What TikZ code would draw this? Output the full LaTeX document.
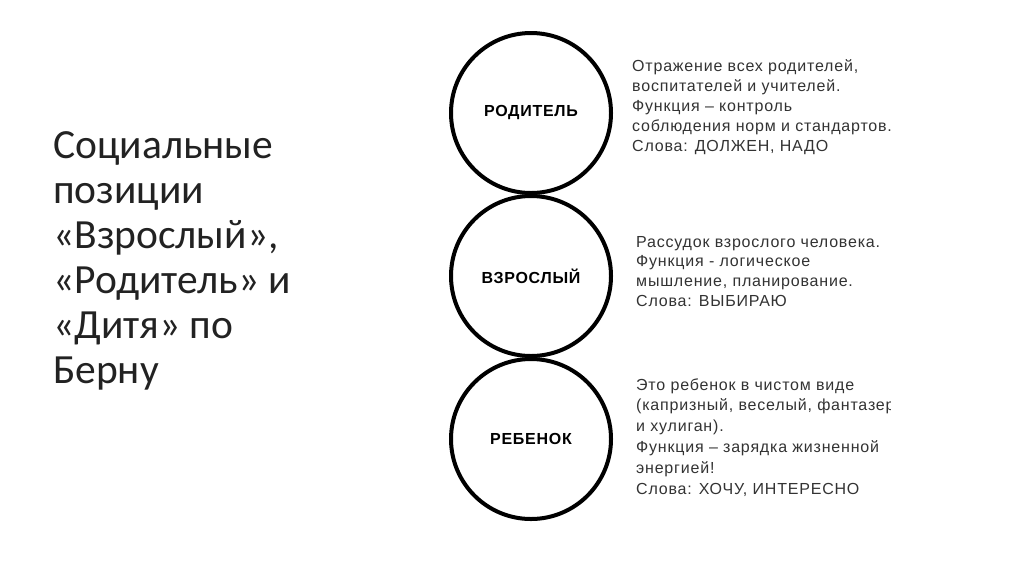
\documentclass[tikz,border=0pt]{standalone}
\usepackage{fontspec}
\setmainfont{Liberation Sans}
\newfontfamily\titlefont{Carlito}
\newfontfamily\descfont[LetterSpace=5]{Liberation Sans}
\newfontfamily\ringfont[LetterSpace=4.5]{Liberation Sans}
\definecolor{titlecol}{HTML}{222222}
\definecolor{desccol}{HTML}{333333}
\begin{document}
\begin{tikzpicture}[x=1pt,y=-1pt]
\tikzset{
  ring/.style={circle, draw=black, line width=4pt, minimum size=160pt, inner sep=0pt,
    font=\ringfont\bfseries\fontsize{16}{18}\selectfont},
  titleline/.style={anchor=base west, inner sep=0pt, text=titlecol,
    font=\titlefont\fontsize{41.5}{45}\selectfont},
  descline/.style={anchor=base west, inner sep=0pt, text=desccol,
    font=\descfont\fontsize{16}{20}\selectfont}
}
\fill[white] (0,0) rectangle (1024,574);
\useasboundingbox (0,0) rectangle (1024,574);

% title
\foreach \t [count=\i] in {Социальные, позиции, {«Взрослый»,}, «Родитель» и, «Дитя» по, Берну}
  \node[titleline] (title\i) at (53,{158+45*(\i-1)}) {\t};

% circles
\node[ring] (parent) at (531,113) {РОДИТЕЛЬ};
\node[ring] (adult) at (531,276) {ВЗРОСЛЫЙ};
\node[ring] (child) at (531,439) {РЕБЕНОК};

% descriptions
\foreach \t [count=\i] in {{Отражение всех родителей,}, воспитателей и учителей., Функция – контроль, соблюдения норм и стандартов., {Слова: ДОЛЖЕН, НАДО}}
  \node[descline] (pdesc\i) at (632,{71+20*(\i-1)}) {\t};
\foreach \t [count=\i] in {Рассудок взрослого человека., Функция - логическое, {мышление, планирование.}, Слова: ВЫБИРАЮ}
  \node[descline] (adesc\i) at (636,{247+19.7*(\i-1)}) {\t};
\begin{scope}
\clip (600,370) rectangle (890,520);
\foreach \t [count=\i] in {Это ребенок в чистом виде, {(капризный, веселый, фантазер}, и хулиган)., Функция – зарядка жизненной, энергией!, {Слова: ХОЧУ, ИНТЕРЕСНО}}
  \node[descline] (cdesc\i) at (636,{390+20.8*(\i-1)}) {\t};
\end{scope}
\end{tikzpicture}
\end{document}
